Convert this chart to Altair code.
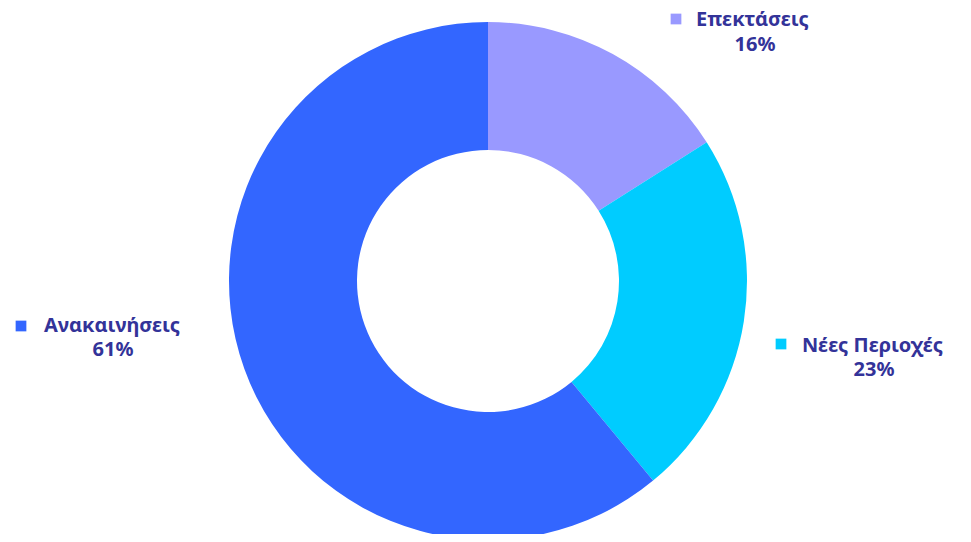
import altair as alt
import pandas as pd

categories = ["Επεκτάσεις", "Νέες Περιοχές", "Ανακαινήσεις"]
values = [16, 23, 61]
colors = ["#9999FF", "#00CCFF", "#3366FF"]

df = pd.DataFrame({"cat": categories, "val": values, "ord": list(range(len(categories)))})

W, H = 955, 526
CX, CY = 480, 273
R_OUT, R_IN = 259, 131
TEXT_COLOR = "#333399"
FONT = "Noto Sans"
FS = 20

color_scale = alt.Scale(domain=categories, range=colors)

donut = alt.Chart(df).mark_arc(outerRadius=R_OUT, innerRadius=R_IN).encode(
    theta=alt.Theta("val:Q", stack=True),
    color=alt.Color("cat:N", scale=color_scale, legend=None),
    order=alt.Order("ord:Q"),
    x=alt.value(CX),
    y=alt.value(CY),
)

# label layout (chart coordinates): text start x, line1 baseline, line2 center x, line2 baseline, square center
layout = {
    "Επεκτάσεις": dict(tx=688, ty=18, cx=747, cy=43, sx=668, sy=11),
    "Νέες Περιοχές": dict(tx=794, ty=344, cx=866, cy=368, sx=773, sy=336),
    "Ανακαινήσεις": dict(tx=36, ty=324, cx=105, cy=348, sx=13, sy=318),
}

layers = [donut]
for cat, val in zip(categories, values):
    L = layout[cat]
    one = df[df["cat"] == cat]
    base = alt.Chart(one)
    layers.append(
        base.mark_square(size=115, opacity=1).encode(
            x=alt.value(L["sx"]), y=alt.value(L["sy"]),
            color=alt.Color("cat:N", scale=color_scale, legend=None),
        )
    )
    layers.append(
        base.mark_text(align="left", baseline="alphabetic", font=FONT, fontSize=FS,
                       fontWeight="bold", fontStyle="normal", color=TEXT_COLOR).encode(
            x=alt.value(L["tx"]), y=alt.value(L["ty"]), text="cat:N",
        )
    )
    layers.append(
        base.transform_calculate(pct="datum.val + '%'").mark_text(
            align="center", baseline="alphabetic", font=FONT, fontSize=FS,
            fontWeight="bold", fontStyle="normal", color=TEXT_COLOR).encode(
            x=alt.value(L["cx"]), y=alt.value(L["cy"]), text="pct:N",
        )
    )

chart = alt.layer(*layers).properties(
    width=W, height=H, autosize=alt.AutoSizeParams(type="none"), padding=0,
).configure_view(stroke=None)

chart.save("out.html", embed_options={"renderer": "svg", "actions": False})
